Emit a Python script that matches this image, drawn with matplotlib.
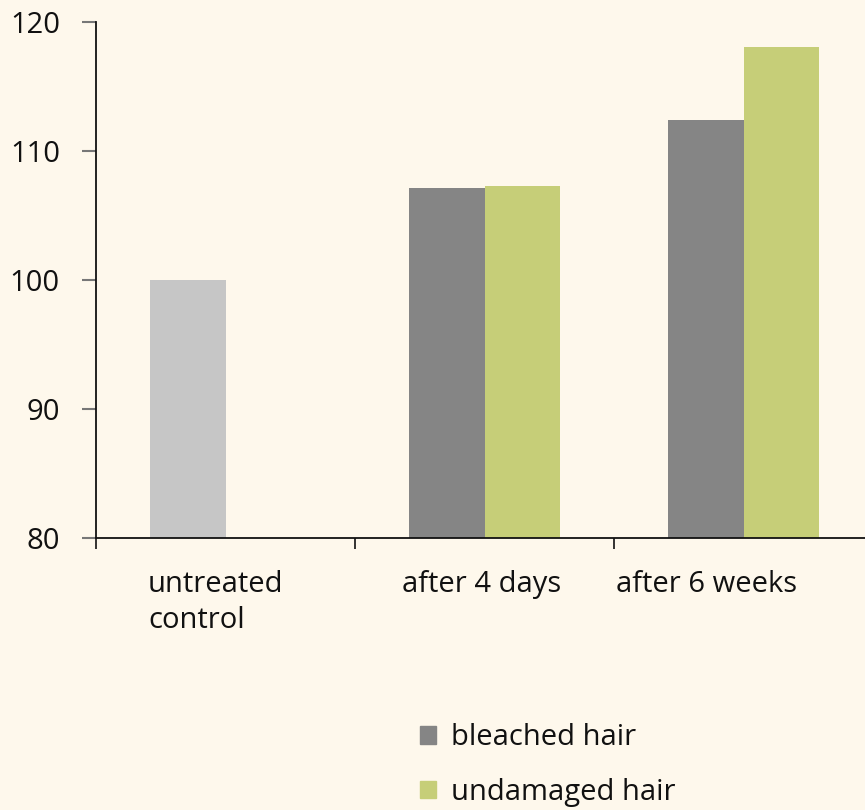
import numpy as np
import matplotlib
matplotlib.use("Agg")
import matplotlib.pyplot as plt
from matplotlib.patches import Patch

plt.rcParams["font.family"] = ["Open Sans", "DejaVu Sans"]

# Data
categories = ["untreated\ncontrol", "after 4 days", "after 6 weeks"]
control = [100.0, np.nan, np.nan]
bleached = [np.nan, 107.1, 112.4]
undamaged = [np.nan, 107.3, 118.1]
series_labels = ["bleached hair", "undamaged hair"]

bg = "#fef8ec"
c_control = "#c6c6c6"
c_bleached = "#858585"
c_undamaged = "#c6ce78"
fs = 21

fig = plt.figure(figsize=(8.65, 8.1), dpi=100, facecolor=bg)
ax = fig.add_axes([96 / 865, 272 / 810, 777 / 865, 516 / 810], facecolor=bg)

x = np.arange(len(categories))
w = 0.29
ax.bar(x - w / 2, control, w, color=c_control)
ax.bar(x - w / 2, bleached, w, color=c_bleached)
ax.bar(x + w / 2, undamaged, w, color=c_undamaged)

ax.set_xlim(-0.5, 2.5)
ax.set_ylim(80, 120)
ax.set_yticks([80, 90, 100, 110, 120])
ax.tick_params(axis="y", direction="out", length=10, width=1.5, color="#777777",
               labelsize=fs, pad=16, labelcolor="#111111")
ax.set_xticks([-0.5, 0.5, 1.5, 2.5])
ax.set_xticklabels([])
ax.tick_params(axis="x", direction="out", length=8, width=1.2, color="#111111")

for s in ["top", "right"]:
    ax.spines[s].set_visible(False)
for s in ["left", "bottom"]:
    ax.spines[s].set_linewidth(1.3)
    ax.spines[s].set_color("#111111")
ax.spines["left"].set_bounds(80, 120)

# category labels (left aligned, positions)
label_x = [-0.299, 0.681, 1.508]
for lx, lab in zip(label_x, categories):
    ax.text(lx, -0.062, lab, transform=ax.get_xaxis_transform(), ha="left", va="top",
            fontsize=fs, color="#111111", linespacing=1.32)

handles = [Patch(color=c_bleached), Patch(color=c_undamaged)]
fig.legend(handles, series_labels, loc="upper left", bbox_to_anchor=(394 / 865, 1 - 697 / 810),
           frameon=False, fontsize=fs, handlelength=0.55, handleheight=0.55,
           handletextpad=0.5, labelspacing=0.88, labelcolor="#111111")

fig.savefig("out.png", dpi=100, facecolor=bg)
